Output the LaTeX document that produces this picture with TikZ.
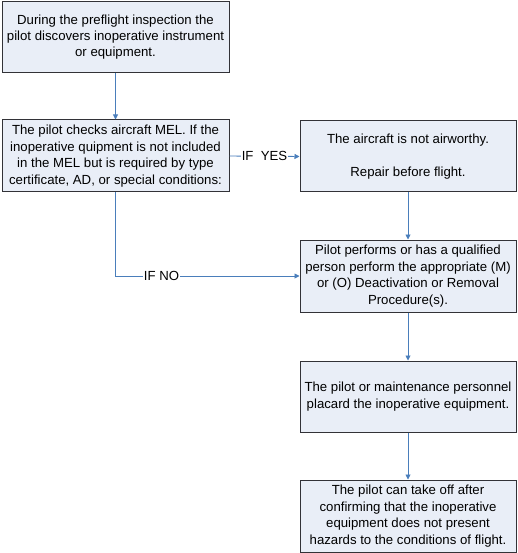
\documentclass[tikz,border=0pt]{standalone}
\usepackage{fontspec}
\setmainfont{Liberation Sans}
\usetikzlibrary{arrows.meta}
\definecolor{boxfill}{RGB}{233,238,247}
\definecolor{boxdraw}{RGB}{50,50,55}
\definecolor{arrowblue}{RGB}{74,126,187}
\begin{document}
\begin{tikzpicture}[x=1pt,y=-1pt,
  box/.style={draw=boxdraw, line width=1pt, fill=boxfill, rectangle, align=center,
    inner sep=0pt, font=\fontsize{13.2}{16.4}\selectfont},
  wide/.style={box, minimum width=227pt, minimum height=71pt},
  narrow/.style={box, minimum width=216pt, minimum height=71pt},
  conn/.style={draw=arrowblue, line width=0.9pt, -{Triangle[length=5pt,width=5pt]}},
  lbl/.style={fill=white, inner sep=1pt, font=\fontsize{13.2}{16.4}\selectfont}]
\useasboundingbox (0,0) rectangle (517,553);
\node[wide] (b1) at (115.5,37) {During the preflight inspection the\\pilot discovers inoperative instrument\\or equipment.};
\node[wide, minimum height=72pt] (b2) at (115.5,156) {The pilot checks aircraft MEL. If the\\inoperative quipment is not included\\in the MEL but is required by type\\certificate, AD, or special conditions:};
\node[narrow] (b3) at (408,156.5) {The aircraft is not airworthy.\\[16.4pt]Repair before flight.};
\node[narrow, minimum height=72pt] (b4) at (408,276) {Pilot performs or has a qualified\\person perform the appropriate (M)\\or (O) Deactivation or Removal\\Procedure(s).};
\node[narrow] (b5) at (408,396.5) {The pilot or maintenance personnel\\placard the inoperative equipment.};
\node[narrow, minimum height=72pt] (b6) at (408,516) {The pilot can take off after\\confirming that the inoperative\\equipment does not present\\hazards to the conditions of flight.};
\path[conn] (b1) -- (b2);
\path[conn] (b2.east) -- node[lbl] {IF\ \ YES} (b3.west);
\path[conn] (b3) -- (b4);
\path[conn] (b2.south) -- (b2.south |- b4.west) -- node[lbl, pos=0.25] {IF NO} (b4.west);
\path[conn] (b4) -- (b5);
\path[conn] (b5) -- (b6);
\end{tikzpicture}
\end{document}
